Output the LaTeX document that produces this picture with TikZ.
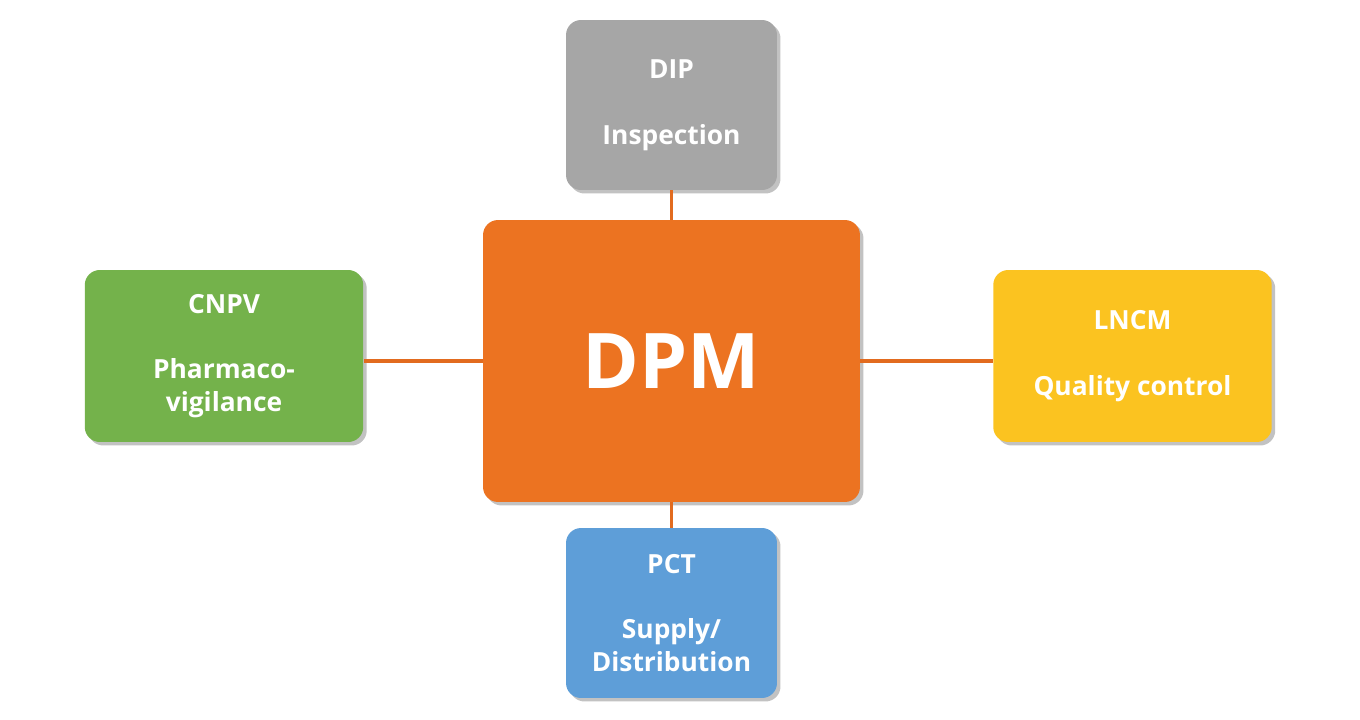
\documentclass[tikz,border=0pt]{standalone}
\usepackage{fontspec}
\setmainfont{Open Sans}
\usetikzlibrary{shadows}

\definecolor{dpmorange}{HTML}{EC7321}
\definecolor{linkorange}{HTML}{E26B1F}
\definecolor{dipgray}{HTML}{A6A6A6}
\definecolor{cnpvgreen}{HTML}{74B24B}
\definecolor{lncmyellow}{HTML}{FBC320}
\definecolor{pctblue}{HTML}{5E9ED8}

\begin{document}
\begin{tikzpicture}[
    x=0.02cm, y=-0.02cm,
    box/.style={rounded corners=0.3cm, text=white, align=center, inner sep=0pt,
        font=\fontsize{15}{18.7}\selectfont\bfseries,
        drop shadow={shadow xshift=0.07cm, shadow yshift=-0.07cm, opacity=0.4, fill=black!60}},
    smallbox/.style={box, minimum width=4.22cm, minimum height=3.4cm},
    sidebox/.style={box, minimum width=5.57cm, minimum height=3.44cm},
    link/.style={draw=linkorange, line width=1.8pt},
]
\useasboundingbox (0,0) rectangle (1360,720);

% ==================== CENTRE ====================
\node[box, fill=dpmorange, minimum width=7.54cm, minimum height=5.64cm,
      font=\fontsize{43.7}{50}\selectfont\bfseries] (dpm) at (671.5,361) {DPM};

% ==================== SATELLITES ====================
\node[smallbox, fill=dipgray] (dip) at (671.5,105) {DIP\\[18.7pt]Inspection};
\node[sidebox, fill=cnpvgreen] (cnpv) at (224,356) {CNPV\\[18.7pt]Pharmaco-\\vigilance};
\node[sidebox, fill=lncmyellow] (lncm) at (1132.5,356) {LNCM\\[18.7pt]Quality control};
\node[smallbox, fill=pctblue] (pct) at (671.5,613) {PCT\\[18.7pt]Supply/\\Distribution};

% ==================== CONNECTORS ====================
\draw[link] (dip.south) -- (dpm.north);
\draw[link] (dpm.south) -- (pct.north);
\draw[link] (dpm.west) -- (dpm.west -| cnpv.east);
\draw[link] (dpm.east) -- (dpm.east -| lncm.west);

\end{tikzpicture}
\end{document}
